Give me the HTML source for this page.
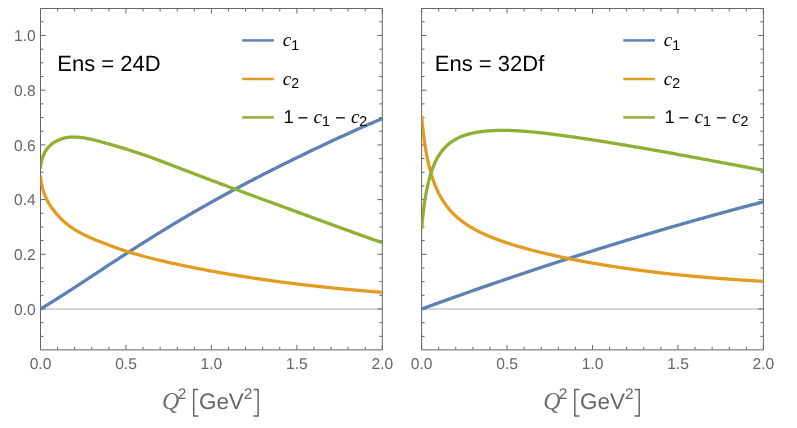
<!DOCTYPE html><html><head><title>c1, c2 vs Q^2</title><meta charset="utf-8"><style>html,body{margin:0;padding:0;background:#fff}svg{display:block;will-change:transform}text{font-family:"Liberation Sans",sans-serif;text-rendering:geometricPrecision}.it{font-family:"Liberation Serif",serif;font-style:italic}</style></head><body>
<svg width="797" height="428" viewBox="0 0 797 428">
<rect width="797" height="428" fill="#fff"/>
<clipPath id="cp0"><rect x="40.5" y="8.5" width="342.30" height="341.4"/></clipPath>
<line x1="40.5" y1="309.0" x2="382.3" y2="309.0" stroke="#d6d6d6" stroke-width="1.8"/>
<path d="M40.5 8.5H382.3V349.9H40.5ZM40.50 349.9v-5M40.50 8.5v5M57.59 349.9v-3M57.59 8.5v3M74.68 349.9v-3M74.68 8.5v3M91.77 349.9v-3M91.77 8.5v3M108.86 349.9v-3M108.86 8.5v3M125.95 349.9v-5M125.95 8.5v5M143.04 349.9v-3M143.04 8.5v3M160.13 349.9v-3M160.13 8.5v3M177.22 349.9v-3M177.22 8.5v3M194.31 349.9v-3M194.31 8.5v3M211.40 349.9v-5M211.40 8.5v5M228.49 349.9v-3M228.49 8.5v3M245.58 349.9v-3M245.58 8.5v3M262.67 349.9v-3M262.67 8.5v3M279.76 349.9v-3M279.76 8.5v3M296.85 349.9v-5M296.85 8.5v5M313.94 349.9v-3M313.94 8.5v3M331.03 349.9v-3M331.03 8.5v3M348.12 349.9v-3M348.12 8.5v3M365.21 349.9v-3M365.21 8.5v3M382.30 349.9v-5M382.30 8.5v5M40.5 336.35h3M382.3 336.35h-3M40.5 322.68h3M382.3 322.68h-3M40.5 309.00h5M382.3 309.00h-5M40.5 295.32h3M382.3 295.32h-3M40.5 281.65h3M382.3 281.65h-3M40.5 267.98h3M382.3 267.98h-3M40.5 254.30h5M382.3 254.30h-5M40.5 240.62h3M382.3 240.62h-3M40.5 226.95h3M382.3 226.95h-3M40.5 213.27h3M382.3 213.27h-3M40.5 199.60h5M382.3 199.60h-5M40.5 185.93h3M382.3 185.93h-3M40.5 172.25h3M382.3 172.25h-3M40.5 158.57h3M382.3 158.57h-3M40.5 144.90h5M382.3 144.90h-5M40.5 131.22h3M382.3 131.22h-3M40.5 117.55h3M382.3 117.55h-3M40.5 103.88h3M382.3 103.88h-3M40.5 90.20h5M382.3 90.20h-5M40.5 76.52h3M382.3 76.52h-3M40.5 62.85h3M382.3 62.85h-3M40.5 49.17h3M382.3 49.17h-3M40.5 35.50h5M382.3 35.50h-5M40.5 21.82h3M382.3 21.82h-3" fill="none" stroke="#666666" stroke-width="1"/>
<g clip-path="url(#cp0)" fill="none" stroke-width="3.3" stroke-linejoin="round">
<path d="M40.50 309.00 L40.50 309.00 L40.51 308.99 L40.52 308.99 L40.53 308.98 L40.55 308.97 L40.58 308.95 L40.61 308.94 L40.64 308.92 L40.67 308.90 L40.71 308.87 L40.76 308.84 L40.81 308.81 L40.86 308.78 L40.92 308.75 L40.98 308.71 L41.05 308.67 L41.12 308.63 L41.20 308.58 L41.28 308.53 L41.36 308.48 L41.45 308.43 L41.54 308.37 L41.64 308.32 L41.74 308.26 L41.84 308.19 L41.95 308.13 L42.07 308.06 L42.18 307.99 L42.31 307.91 L42.43 307.83 L42.56 307.76 L42.70 307.67 L42.84 307.59 L42.98 307.50 L43.13 307.41 L43.28 307.32 L43.44 307.22 L43.60 307.13 L43.77 307.03 L43.94 306.92 L44.11 306.82 L44.29 306.71 L44.47 306.60 L44.66 306.48 L44.85 306.37 L45.04 306.25 L45.24 306.13 L45.45 306.00 L45.65 305.87 L45.87 305.74 L46.08 305.61 L46.31 305.47 L46.53 305.34 L46.76 305.20 L46.99 305.05 L47.23 304.90 L47.48 304.76 L47.72 304.60 L47.97 304.45 L48.23 304.29 L48.49 304.13 L48.75 303.97 L49.02 303.80 L49.29 303.63 L49.57 303.46 L49.85 303.29 L50.14 303.11 L50.43 302.93 L50.72 302.75 L51.02 302.56 L51.32 302.37 L51.63 302.18 L51.94 301.99 L52.26 301.79 L52.58 301.59 L52.90 301.39 L53.23 301.18 L53.56 300.97 L53.90 300.76 L54.24 300.55 L54.59 300.33 L54.94 300.11 L55.29 299.89 L55.65 299.66 L56.01 299.43 L56.38 299.20 L56.75 298.97 L57.13 298.73 L57.51 298.49 L57.89 298.25 L58.28 298.00 L58.67 297.75 L59.07 297.50 L59.47 297.24 L59.88 296.98 L60.29 296.72 L60.70 296.46 L61.12 296.19 L61.54 295.92 L61.97 295.65 L62.40 295.37 L62.84 295.10 L63.28 294.81 L63.72 294.53 L64.17 294.24 L64.62 293.95 L65.08 293.66 L65.54 293.36 L66.01 293.06 L66.48 292.76 L66.95 292.45 L67.43 292.14 L67.91 291.83 L68.40 291.52 L68.89 291.20 L69.39 290.88 L69.89 290.56 L70.39 290.23 L70.90 289.90 L71.42 289.57 L71.93 289.23 L72.46 288.89 L72.98 288.55 L73.51 288.21 L74.05 287.86 L74.59 287.51 L75.13 287.15 L75.68 286.80 L76.23 286.44 L76.78 286.07 L77.34 285.71 L77.91 285.34 L78.48 284.97 L79.05 284.59 L79.63 284.22 L80.21 283.83 L80.80 283.45 L81.39 283.06 L81.98 282.67 L82.58 282.28 L83.18 281.89 L83.79 281.49 L84.40 281.09 L85.02 280.68 L85.64 280.28 L86.26 279.87 L86.89 279.45 L87.53 279.04 L88.16 278.62 L88.81 278.20 L89.45 277.77 L90.10 277.34 L90.76 276.91 L91.42 276.48 L92.08 276.04 L92.75 275.60 L93.42 275.16 L94.10 274.72 L94.78 274.27 L95.46 273.82 L96.15 273.36 L96.85 272.91 L97.54 272.45 L98.24 271.99 L98.95 271.52 L99.66 271.05 L100.38 270.58 L101.10 270.11 L101.82 269.64 L102.55 269.16 L103.28 268.68 L104.02 268.19 L104.76 267.71 L105.50 267.22 L106.25 266.73 L107.00 266.23 L107.76 265.73 L108.52 265.23 L109.29 264.73 L110.06 264.23 L110.84 263.72 L111.62 263.21 L112.40 262.70 L113.19 262.18 L113.98 261.66 L114.78 261.14 L115.58 260.62 L116.38 260.09 L117.19 259.57 L118.01 259.04 L118.82 258.50 L119.65 257.97 L120.47 257.43 L121.30 256.89 L122.14 256.35 L122.98 255.80 L123.82 255.26 L124.67 254.71 L125.52 254.16 L126.38 253.60 L127.24 253.05 L128.11 252.49 L128.97 251.93 L129.85 251.37 L130.73 250.80 L131.61 250.23 L132.50 249.66 L133.39 249.09 L134.28 248.52 L135.18 247.94 L136.09 247.37 L136.99 246.79 L137.91 246.20 L138.82 245.62 L139.74 245.04 L140.67 244.45 L141.60 243.86 L142.53 243.27 L143.47 242.67 L144.41 242.08 L145.36 241.48 L146.31 240.88 L147.27 240.28 L148.23 239.68 L149.19 239.07 L150.16 238.47 L151.13 237.86 L152.11 237.25 L153.09 236.64 L154.07 236.02 L155.06 235.41 L156.06 234.79 L157.06 234.17 L158.06 233.55 L159.07 232.93 L160.08 232.31 L161.09 231.68 L162.11 231.06 L163.14 230.43 L164.17 229.80 L165.20 229.17 L166.24 228.54 L167.28 227.90 L168.32 227.27 L169.37 226.63 L170.43 225.99 L171.48 225.35 L172.55 224.71 L173.61 224.07 L174.69 223.43 L175.76 222.78 L176.84 222.14 L177.93 221.49 L179.01 220.84 L180.11 220.19 L181.20 219.54 L182.31 218.89 L183.41 218.23 L184.52 217.58 L185.64 216.92 L186.75 216.27 L187.88 215.61 L189.00 214.95 L190.14 214.29 L191.27 213.63 L192.41 212.97 L193.56 212.30 L194.70 211.64 L195.86 210.98 L197.01 210.31 L198.18 209.64 L199.34 208.97 L200.51 208.31 L201.69 207.64 L202.86 206.96 L204.05 206.29 L205.23 205.62 L206.43 204.95 L207.62 204.27 L208.82 203.60 L210.03 202.92 L211.24 202.24 L212.45 201.56 L213.67 200.89 L214.89 200.21 L216.11 199.53 L217.34 198.84 L218.58 198.16 L219.82 197.48 L221.06 196.80 L222.31 196.11 L223.56 195.43 L224.82 194.74 L226.08 194.05 L227.34 193.37 L228.61 192.68 L229.88 191.99 L231.16 191.30 L232.44 190.61 L233.73 189.92 L235.02 189.23 L236.31 188.53 L237.61 187.84 L238.91 187.15 L240.22 186.45 L241.53 185.76 L242.85 185.06 L244.17 184.36 L245.49 183.67 L246.82 182.97 L248.16 182.27 L249.49 181.57 L250.84 180.87 L252.18 180.17 L253.53 179.47 L254.89 178.76 L256.25 178.06 L257.61 177.36 L258.98 176.65 L260.35 175.95 L261.73 175.24 L263.11 174.53 L264.49 173.83 L265.88 173.12 L267.27 172.41 L268.67 171.70 L270.07 170.99 L271.48 170.28 L272.89 169.57 L274.31 168.86 L275.72 168.14 L277.15 167.43 L278.58 166.71 L280.01 166.00 L281.44 165.28 L282.88 164.57 L284.33 163.85 L285.78 163.13 L287.23 162.41 L288.69 161.69 L290.15 160.97 L291.62 160.25 L293.09 159.53 L294.56 158.81 L296.04 158.09 L297.53 157.36 L299.01 156.64 L300.51 155.92 L302.00 155.19 L303.50 154.46 L305.01 153.74 L306.52 153.01 L308.03 152.28 L309.55 151.55 L311.07 150.82 L312.60 150.09 L314.13 149.36 L315.66 148.63 L317.20 147.90 L318.75 147.17 L320.30 146.43 L321.85 145.70 L323.40 144.97 L324.97 144.23 L326.53 143.50 L328.10 142.76 L329.67 142.03 L331.25 141.29 L332.83 140.56 L334.42 139.82 L336.01 139.08 L337.61 138.34 L339.21 137.61 L340.81 136.87 L342.42 136.13 L344.03 135.39 L345.65 134.66 L347.27 133.92 L348.89 133.18 L350.52 132.44 L352.16 131.71 L353.79 130.97 L355.44 130.23 L357.08 129.50 L358.73 128.76 L360.39 128.02 L362.05 127.29 L363.71 126.56 L365.38 125.82 L367.05 125.09 L368.73 124.36 L370.41 123.63 L372.10 122.90 L373.79 122.17 L375.48 121.44 L377.18 120.72 L378.88 119.99 L380.59 119.27 L382.30 118.55" stroke="#5e81b5"/>
<path d="M40.50 175.78 L40.50 176.07 L40.51 176.38 L40.52 176.70 L40.53 177.02 L40.55 177.36 L40.58 177.70 L40.61 178.06 L40.64 178.42 L40.67 178.79 L40.71 179.16 L40.76 179.55 L40.81 179.94 L40.86 180.34 L40.92 180.74 L40.98 181.15 L41.05 181.57 L41.12 181.99 L41.20 182.42 L41.28 182.85 L41.36 183.29 L41.45 183.73 L41.54 184.18 L41.64 184.63 L41.74 185.08 L41.84 185.53 L41.95 185.99 L42.07 186.45 L42.18 186.92 L42.31 187.38 L42.43 187.85 L42.56 188.32 L42.70 188.80 L42.84 189.27 L42.98 189.74 L43.13 190.22 L43.28 190.70 L43.44 191.18 L43.60 191.65 L43.77 192.13 L43.94 192.61 L44.11 193.09 L44.29 193.57 L44.47 194.05 L44.66 194.53 L44.85 195.01 L45.04 195.49 L45.24 195.97 L45.45 196.45 L45.65 196.93 L45.87 197.41 L46.08 197.89 L46.31 198.37 L46.53 198.85 L46.76 199.32 L46.99 199.80 L47.23 200.28 L47.48 200.75 L47.72 201.22 L47.97 201.69 L48.23 202.16 L48.49 202.63 L48.75 203.09 L49.02 203.55 L49.29 204.01 L49.57 204.47 L49.85 204.92 L50.14 205.37 L50.43 205.82 L50.72 206.27 L51.02 206.72 L51.32 207.17 L51.63 207.61 L51.94 208.05 L52.26 208.49 L52.58 208.93 L52.90 209.37 L53.23 209.80 L53.56 210.24 L53.90 210.68 L54.24 211.11 L54.59 211.54 L54.94 211.98 L55.29 212.41 L55.65 212.85 L56.01 213.28 L56.38 213.72 L56.75 214.15 L57.13 214.59 L57.51 215.02 L57.89 215.45 L58.28 215.88 L58.67 216.31 L59.07 216.74 L59.47 217.17 L59.88 217.59 L60.29 218.02 L60.70 218.44 L61.12 218.86 L61.54 219.28 L61.97 219.70 L62.40 220.11 L62.84 220.52 L63.28 220.93 L63.72 221.34 L64.17 221.75 L64.62 222.15 L65.08 222.55 L65.54 222.95 L66.01 223.34 L66.48 223.73 L66.95 224.12 L67.43 224.50 L67.91 224.88 L68.40 225.26 L68.89 225.63 L69.39 225.99 L69.89 226.35 L70.39 226.71 L70.90 227.06 L71.42 227.41 L71.93 227.76 L72.46 228.11 L72.98 228.45 L73.51 228.80 L74.05 229.14 L74.59 229.48 L75.13 229.81 L75.68 230.15 L76.23 230.48 L76.78 230.81 L77.34 231.14 L77.91 231.46 L78.48 231.79 L79.05 232.11 L79.63 232.43 L80.21 232.75 L80.80 233.06 L81.39 233.38 L81.98 233.69 L82.58 234.00 L83.18 234.31 L83.79 234.62 L84.40 234.93 L85.02 235.23 L85.64 235.54 L86.26 235.84 L86.89 236.14 L87.53 236.44 L88.16 236.74 L88.81 237.03 L89.45 237.33 L90.10 237.62 L90.76 237.91 L91.42 238.20 L92.08 238.49 L92.75 238.77 L93.42 239.06 L94.10 239.35 L94.78 239.63 L95.46 239.91 L96.15 240.19 L96.85 240.47 L97.54 240.75 L98.24 241.03 L98.95 241.30 L99.66 241.58 L100.38 241.85 L101.10 242.12 L101.82 242.40 L102.55 242.67 L103.28 242.94 L104.02 243.22 L104.76 243.50 L105.50 243.78 L106.25 244.06 L107.00 244.34 L107.76 244.63 L108.52 244.92 L109.29 245.21 L110.06 245.50 L110.84 245.79 L111.62 246.08 L112.40 246.37 L113.19 246.67 L113.98 246.96 L114.78 247.25 L115.58 247.55 L116.38 247.84 L117.19 248.13 L118.01 248.42 L118.82 248.72 L119.65 249.00 L120.47 249.29 L121.30 249.58 L122.14 249.86 L122.98 250.14 L123.82 250.42 L124.67 250.69 L125.52 250.97 L126.38 251.23 L127.24 251.50 L128.11 251.77 L128.97 252.03 L129.85 252.30 L130.73 252.57 L131.61 252.83 L132.50 253.10 L133.39 253.36 L134.28 253.63 L135.18 253.89 L136.09 254.15 L136.99 254.41 L137.91 254.68 L138.82 254.94 L139.74 255.20 L140.67 255.46 L141.60 255.72 L142.53 255.98 L143.47 256.24 L144.41 256.49 L145.36 256.75 L146.31 257.00 L147.27 257.26 L148.23 257.51 L149.19 257.76 L150.16 258.02 L151.13 258.27 L152.11 258.51 L153.09 258.76 L154.07 259.01 L155.06 259.25 L156.06 259.50 L157.06 259.74 L158.06 259.98 L159.07 260.22 L160.08 260.45 L161.09 260.69 L162.11 260.92 L163.14 261.16 L164.17 261.39 L165.20 261.63 L166.24 261.86 L167.28 262.10 L168.32 262.33 L169.37 262.57 L170.43 262.80 L171.48 263.03 L172.55 263.27 L173.61 263.50 L174.69 263.73 L175.76 263.96 L176.84 264.20 L177.93 264.43 L179.01 264.66 L180.11 264.89 L181.20 265.12 L182.31 265.35 L183.41 265.58 L184.52 265.81 L185.64 266.04 L186.75 266.27 L187.88 266.50 L189.00 266.73 L190.14 266.96 L191.27 267.19 L192.41 267.42 L193.56 267.65 L194.70 267.87 L195.86 268.10 L197.01 268.33 L198.18 268.56 L199.34 268.78 L200.51 269.01 L201.69 269.23 L202.86 269.46 L204.05 269.68 L205.23 269.91 L206.43 270.13 L207.62 270.36 L208.82 270.58 L210.03 270.80 L211.24 271.03 L212.45 271.25 L213.67 271.47 L214.89 271.69 L216.11 271.91 L217.34 272.13 L218.58 272.35 L219.82 272.57 L221.06 272.79 L222.31 273.01 L223.56 273.23 L224.82 273.45 L226.08 273.66 L227.34 273.88 L228.61 274.10 L229.88 274.31 L231.16 274.53 L232.44 274.74 L233.73 274.95 L235.02 275.17 L236.31 275.38 L237.61 275.59 L238.91 275.80 L240.22 276.02 L241.53 276.23 L242.85 276.44 L244.17 276.64 L245.49 276.85 L246.82 277.06 L248.16 277.27 L249.49 277.48 L250.84 277.68 L252.18 277.89 L253.53 278.09 L254.89 278.30 L256.25 278.50 L257.61 278.70 L258.98 278.90 L260.35 279.10 L261.73 279.30 L263.11 279.50 L264.49 279.70 L265.88 279.90 L267.27 280.10 L268.67 280.30 L270.07 280.49 L271.48 280.69 L272.89 280.88 L274.31 281.07 L275.72 281.27 L277.15 281.46 L278.58 281.65 L280.01 281.84 L281.44 282.03 L282.88 282.22 L284.33 282.41 L285.78 282.59 L287.23 282.78 L288.69 282.97 L290.15 283.15 L291.62 283.33 L293.09 283.52 L294.56 283.70 L296.04 283.88 L297.53 284.06 L299.01 284.24 L300.51 284.42 L302.00 284.60 L303.50 284.77 L305.01 284.95 L306.52 285.12 L308.03 285.30 L309.55 285.47 L311.07 285.64 L312.60 285.81 L314.13 285.98 L315.66 286.15 L317.20 286.32 L318.75 286.49 L320.30 286.66 L321.85 286.82 L323.40 286.99 L324.97 287.15 L326.53 287.31 L328.10 287.48 L329.67 287.64 L331.25 287.80 L332.83 287.96 L334.42 288.12 L336.01 288.27 L337.61 288.43 L339.21 288.58 L340.81 288.74 L342.42 288.89 L344.03 289.05 L345.65 289.20 L347.27 289.35 L348.89 289.50 L350.52 289.65 L352.16 289.80 L353.79 289.94 L355.44 290.09 L357.08 290.23 L358.73 290.38 L360.39 290.52 L362.05 290.66 L363.71 290.81 L365.38 290.95 L367.05 291.09 L368.73 291.22 L370.41 291.36 L372.10 291.50 L373.79 291.63 L375.48 291.77 L377.18 291.90 L378.88 292.04 L380.59 292.17 L382.30 292.30" stroke="#e19c24"/>
<path d="M40.50 168.72 L40.50 168.43 L40.51 168.13 L40.52 167.82 L40.53 167.50 L40.55 167.18 L40.58 166.85 L40.61 166.51 L40.64 166.17 L40.67 165.82 L40.71 165.47 L40.76 165.12 L40.81 164.76 L40.86 164.39 L40.92 164.03 L40.98 163.65 L41.05 163.28 L41.12 162.90 L41.20 162.53 L41.28 162.14 L41.36 161.76 L41.45 161.38 L41.54 160.99 L41.64 160.60 L41.74 160.22 L41.84 159.83 L41.95 159.44 L42.07 159.05 L42.18 158.67 L42.31 158.28 L42.43 157.89 L42.56 157.51 L42.70 157.12 L42.84 156.74 L42.98 156.36 L43.13 155.98 L43.28 155.60 L43.44 155.22 L43.60 154.85 L43.77 154.48 L43.94 154.11 L44.11 153.74 L44.29 153.38 L44.47 153.02 L44.66 152.66 L44.85 152.30 L45.04 151.95 L45.24 151.60 L45.45 151.25 L45.65 150.91 L45.87 150.57 L46.08 150.24 L46.31 149.90 L46.53 149.57 L46.76 149.25 L46.99 148.92 L47.23 148.60 L47.48 148.29 L47.72 147.98 L47.97 147.67 L48.23 147.37 L48.49 147.08 L48.75 146.79 L49.02 146.51 L49.29 146.23 L49.57 145.95 L49.85 145.68 L50.14 145.41 L50.43 145.15 L50.72 144.90 L51.02 144.65 L51.32 144.40 L51.63 144.16 L51.94 143.92 L52.26 143.68 L52.58 143.45 L52.90 143.23 L53.23 143.00 L53.56 142.79 L53.90 142.57 L54.24 142.36 L54.59 142.14 L54.94 141.94 L55.29 141.73 L55.65 141.53 L56.01 141.32 L56.38 141.12 L56.75 140.92 L57.13 140.73 L57.51 140.54 L57.89 140.35 L58.28 140.16 L58.67 139.98 L59.07 139.81 L59.47 139.64 L59.88 139.47 L60.29 139.31 L60.70 139.15 L61.12 138.99 L61.54 138.85 L61.97 138.70 L62.40 138.56 L62.84 138.43 L63.28 138.30 L63.72 138.18 L64.17 138.06 L64.62 137.95 L65.08 137.84 L65.54 137.74 L66.01 137.64 L66.48 137.56 L66.95 137.48 L67.43 137.40 L67.91 137.33 L68.40 137.27 L68.89 137.22 L69.39 137.17 L69.89 137.14 L70.39 137.11 L70.90 137.08 L71.42 137.07 L71.93 137.05 L72.46 137.05 L72.98 137.04 L73.51 137.05 L74.05 137.05 L74.59 137.07 L75.13 137.08 L75.68 137.11 L76.23 137.13 L76.78 137.17 L77.34 137.20 L77.91 137.25 L78.48 137.29 L79.05 137.35 L79.63 137.40 L80.21 137.46 L80.80 137.53 L81.39 137.60 L81.98 137.68 L82.58 137.76 L83.18 137.85 L83.79 137.94 L84.40 138.03 L85.02 138.13 L85.64 138.23 L86.26 138.34 L86.89 138.46 L87.53 138.57 L88.16 138.69 L88.81 138.82 L89.45 138.95 L90.10 139.09 L90.76 139.23 L91.42 139.37 L92.08 139.52 L92.75 139.67 L93.42 139.83 L94.10 139.99 L94.78 140.15 L95.46 140.32 L96.15 140.49 L96.85 140.67 L97.54 140.85 L98.24 141.03 L98.95 141.22 L99.66 141.41 L100.38 141.61 L101.10 141.81 L101.82 142.01 L102.55 142.22 L103.28 142.43 L104.02 142.64 L104.76 142.84 L105.50 143.05 L106.25 143.26 L107.00 143.47 L107.76 143.68 L108.52 143.90 L109.29 144.11 L110.06 144.32 L110.84 144.54 L111.62 144.76 L112.40 144.98 L113.19 145.20 L113.98 145.42 L114.78 145.65 L115.58 145.88 L116.38 146.11 L117.19 146.35 L118.01 146.59 L118.82 146.83 L119.65 147.07 L120.47 147.32 L121.30 147.57 L122.14 147.82 L122.98 148.08 L123.82 148.34 L124.67 148.60 L125.52 148.87 L126.38 149.15 L127.24 149.43 L128.11 149.71 L128.97 149.99 L129.85 150.27 L130.73 150.55 L131.61 150.84 L132.50 151.13 L133.39 151.42 L134.28 151.71 L135.18 152.01 L136.09 152.31 L136.99 152.61 L137.91 152.91 L138.82 153.21 L139.74 153.52 L140.67 153.83 L141.60 154.14 L142.53 154.46 L143.47 154.78 L144.41 155.10 L145.36 155.42 L146.31 155.75 L147.27 156.08 L148.23 156.42 L149.19 156.75 L150.16 157.09 L151.13 157.44 L152.11 157.79 L153.09 158.14 L154.07 158.50 L155.06 158.86 L156.06 159.23 L157.06 159.60 L158.06 159.97 L159.07 160.35 L160.08 160.74 L161.09 161.13 L162.11 161.52 L163.14 161.91 L164.17 162.31 L165.20 162.70 L166.24 163.10 L167.28 163.50 L168.32 163.90 L169.37 164.30 L170.43 164.71 L171.48 165.11 L172.55 165.52 L173.61 165.93 L174.69 166.34 L175.76 166.75 L176.84 167.17 L177.93 167.58 L179.01 168.00 L180.11 168.42 L181.20 168.84 L182.31 169.26 L183.41 169.68 L184.52 170.11 L185.64 170.53 L186.75 170.96 L187.88 171.39 L189.00 171.82 L190.14 172.25 L191.27 172.68 L192.41 173.11 L193.56 173.55 L194.70 173.98 L195.86 174.42 L197.01 174.86 L198.18 175.30 L199.34 175.74 L200.51 176.19 L201.69 176.63 L202.86 177.08 L204.05 177.52 L205.23 177.97 L206.43 178.42 L207.62 178.87 L208.82 179.32 L210.03 179.78 L211.24 180.23 L212.45 180.69 L213.67 181.14 L214.89 181.60 L216.11 182.06 L217.34 182.52 L218.58 182.99 L219.82 183.45 L221.06 183.91 L222.31 184.38 L223.56 184.85 L224.82 185.31 L226.08 185.78 L227.34 186.25 L228.61 186.73 L229.88 187.20 L231.16 187.68 L232.44 188.15 L233.73 188.63 L235.02 189.11 L236.31 189.59 L237.61 190.07 L238.91 190.55 L240.22 191.03 L241.53 191.52 L242.85 192.00 L244.17 192.49 L245.49 192.98 L246.82 193.47 L248.16 193.96 L249.49 194.46 L250.84 194.95 L252.18 195.45 L253.53 195.94 L254.89 196.44 L256.25 196.94 L257.61 197.44 L258.98 197.95 L260.35 198.45 L261.73 198.96 L263.11 199.46 L264.49 199.97 L265.88 200.48 L267.27 200.99 L268.67 201.50 L270.07 202.02 L271.48 202.53 L272.89 203.05 L274.31 203.57 L275.72 204.09 L277.15 204.61 L278.58 205.13 L280.01 205.66 L281.44 206.19 L282.88 206.71 L284.33 207.24 L285.78 207.77 L287.23 208.31 L288.69 208.84 L290.15 209.38 L291.62 209.91 L293.09 210.45 L294.56 210.99 L296.04 211.53 L297.53 212.08 L299.01 212.62 L300.51 213.17 L302.00 213.71 L303.50 214.26 L305.01 214.82 L306.52 215.37 L308.03 215.92 L309.55 216.48 L311.07 217.03 L312.60 217.59 L314.13 218.15 L315.66 218.72 L317.20 219.28 L318.75 219.84 L320.30 220.41 L321.85 220.98 L323.40 221.55 L324.97 222.12 L326.53 222.69 L328.10 223.26 L329.67 223.84 L331.25 224.41 L332.83 224.99 L334.42 225.57 L336.01 226.15 L337.61 226.73 L339.21 227.31 L340.81 227.89 L342.42 228.48 L344.03 229.06 L345.65 229.65 L347.27 230.23 L348.89 230.82 L350.52 231.41 L352.16 232.00 L353.79 232.59 L355.44 233.18 L357.08 233.77 L358.73 234.36 L360.39 234.95 L362.05 235.55 L363.71 236.14 L365.38 236.73 L367.05 237.32 L368.73 237.92 L370.41 238.51 L372.10 239.10 L373.79 239.70 L375.48 240.29 L377.18 240.88 L378.88 241.47 L380.59 242.06 L382.30 242.65" stroke="#8fb032"/>
</g>
<line x1="242.2" y1="40.4" x2="273.8" y2="40.4" stroke="#5e81b5" stroke-width="2.5"/>
<line x1="242.2" y1="79.0" x2="273.8" y2="79.0" stroke="#e19c24" stroke-width="2.5"/>
<line x1="242.2" y1="117.4" x2="273.8" y2="117.4" stroke="#8fb032" stroke-width="2.5"/>
<text x="282.7" y="46.1" font-size="19" fill="#000"><tspan class="it">c</tspan><tspan font-size="14.2" dy="3.6">1</tspan></text>
<text x="282.7" y="84.7" font-size="19" fill="#000"><tspan class="it">c</tspan><tspan font-size="14.2" dy="3.6">2</tspan></text>
<text x="283.5" y="122.6" font-size="18.5" fill="#000">1<tspan dx="-1.4" dy="1.2"> − </tspan><tspan class="it" font-size="19" dy="-1.2">c</tspan><tspan font-size="14.2" dy="3.6">1</tspan><tspan dy="-2.4"> − </tspan><tspan class="it" font-size="19" dy="-1.2">c</tspan><tspan font-size="14.2" dy="3.6">2</tspan></text>
<text x="40.5" y="369" font-size="15.6" text-anchor="middle" fill="#666666">0.0</text>
<text x="126.0" y="369" font-size="15.6" text-anchor="middle" fill="#666666">0.5</text>
<text x="211.4" y="369" font-size="15.6" text-anchor="middle" fill="#666666">1.0</text>
<text x="296.9" y="369" font-size="15.6" text-anchor="middle" fill="#666666">1.5</text>
<text x="382.3" y="369" font-size="15.6" text-anchor="middle" fill="#666666">2.0</text>
<text x="35.8" y="314.7" font-size="15.6" text-anchor="end" fill="#666666">0.0</text>
<text x="35.8" y="260.0" font-size="15.6" text-anchor="end" fill="#666666">0.2</text>
<text x="35.8" y="205.3" font-size="15.6" text-anchor="end" fill="#666666">0.4</text>
<text x="35.8" y="150.6" font-size="15.6" text-anchor="end" fill="#666666">0.6</text>
<text x="35.8" y="95.9" font-size="15.6" text-anchor="end" fill="#666666">0.8</text>
<text x="35.8" y="41.2" font-size="15.6" text-anchor="end" fill="#666666">1.0</text>
<text x="57.3" y="70.6" font-size="22" fill="#000">Ens = 24D</text>
<text x="162.1" y="409.4" font-size="22" fill="#666666"><tspan class="it" font-size="24" fill="#707070">Q</tspan><tspan font-size="15.4" dy="-10.8" dx="-1.8">2</tspan></text>
<text x="199.0" y="409.4" font-size="22.4" fill="#666666">GeV<tspan font-size="15.4" dy="-10.8">2</tspan></text>
<path d="M198.3 389.6h-4.6v26.5h4.6M253.5 389.6h4.6v26.5h-4.6" fill="none" stroke="#666666" stroke-width="1.5"/>
<clipPath id="cp1"><rect x="421.6" y="8.5" width="342.30" height="341.4"/></clipPath>
<line x1="421.6" y1="309.0" x2="763.4000000000001" y2="309.0" stroke="#d6d6d6" stroke-width="1.8"/>
<path d="M421.6 8.5H763.4000000000001V349.9H421.6ZM421.60 349.9v-5M421.60 8.5v5M438.69 349.9v-3M438.69 8.5v3M455.78 349.9v-3M455.78 8.5v3M472.87 349.9v-3M472.87 8.5v3M489.96 349.9v-3M489.96 8.5v3M507.05 349.9v-5M507.05 8.5v5M524.14 349.9v-3M524.14 8.5v3M541.23 349.9v-3M541.23 8.5v3M558.32 349.9v-3M558.32 8.5v3M575.41 349.9v-3M575.41 8.5v3M592.50 349.9v-5M592.50 8.5v5M609.59 349.9v-3M609.59 8.5v3M626.68 349.9v-3M626.68 8.5v3M643.77 349.9v-3M643.77 8.5v3M660.86 349.9v-3M660.86 8.5v3M677.95 349.9v-5M677.95 8.5v5M695.04 349.9v-3M695.04 8.5v3M712.13 349.9v-3M712.13 8.5v3M729.22 349.9v-3M729.22 8.5v3M746.31 349.9v-3M746.31 8.5v3M763.40 349.9v-5M763.40 8.5v5M421.6 336.35h3M763.4000000000001 336.35h-3M421.6 322.68h3M763.4000000000001 322.68h-3M421.6 309.00h5M763.4000000000001 309.00h-5M421.6 295.32h3M763.4000000000001 295.32h-3M421.6 281.65h3M763.4000000000001 281.65h-3M421.6 267.98h3M763.4000000000001 267.98h-3M421.6 254.30h5M763.4000000000001 254.30h-5M421.6 240.62h3M763.4000000000001 240.62h-3M421.6 226.95h3M763.4000000000001 226.95h-3M421.6 213.27h3M763.4000000000001 213.27h-3M421.6 199.60h5M763.4000000000001 199.60h-5M421.6 185.93h3M763.4000000000001 185.93h-3M421.6 172.25h3M763.4000000000001 172.25h-3M421.6 158.57h3M763.4000000000001 158.57h-3M421.6 144.90h5M763.4000000000001 144.90h-5M421.6 131.22h3M763.4000000000001 131.22h-3M421.6 117.55h3M763.4000000000001 117.55h-3M421.6 103.88h3M763.4000000000001 103.88h-3M421.6 90.20h5M763.4000000000001 90.20h-5M421.6 76.52h3M763.4000000000001 76.52h-3M421.6 62.85h3M763.4000000000001 62.85h-3M421.6 49.17h3M763.4000000000001 49.17h-3M421.6 35.50h5M763.4000000000001 35.50h-5M421.6 21.82h3M763.4000000000001 21.82h-3" fill="none" stroke="#666666" stroke-width="1"/>
<g clip-path="url(#cp1)" fill="none" stroke-width="3.3" stroke-linejoin="round">
<path d="M421.60 309.00 L421.60 309.00 L421.61 309.00 L421.62 308.99 L421.63 308.99 L421.65 308.98 L421.68 308.97 L421.71 308.96 L421.74 308.95 L421.77 308.94 L421.81 308.92 L421.86 308.91 L421.91 308.89 L421.96 308.87 L422.02 308.85 L422.08 308.82 L422.15 308.80 L422.22 308.77 L422.30 308.75 L422.38 308.72 L422.46 308.69 L422.55 308.66 L422.64 308.62 L422.74 308.59 L422.84 308.55 L422.94 308.51 L423.05 308.47 L423.17 308.43 L423.28 308.39 L423.41 308.34 L423.53 308.30 L423.66 308.25 L423.80 308.20 L423.94 308.15 L424.08 308.10 L424.23 308.04 L424.38 307.99 L424.54 307.93 L424.70 307.87 L424.87 307.81 L425.04 307.75 L425.21 307.69 L425.39 307.62 L425.57 307.56 L425.76 307.49 L425.95 307.42 L426.14 307.35 L426.34 307.27 L426.55 307.20 L426.75 307.12 L426.97 307.05 L427.18 306.97 L427.41 306.89 L427.63 306.81 L427.86 306.72 L428.09 306.64 L428.33 306.55 L428.58 306.46 L428.82 306.37 L429.07 306.28 L429.33 306.19 L429.59 306.10 L429.85 306.00 L430.12 305.90 L430.39 305.81 L430.67 305.71 L430.95 305.60 L431.24 305.50 L431.53 305.40 L431.82 305.29 L432.12 305.18 L432.42 305.07 L432.73 304.96 L433.04 304.85 L433.36 304.73 L433.68 304.62 L434.00 304.50 L434.33 304.38 L434.66 304.26 L435.00 304.14 L435.34 304.02 L435.69 303.89 L436.04 303.77 L436.39 303.64 L436.75 303.51 L437.11 303.38 L437.48 303.25 L437.85 303.11 L438.23 302.98 L438.61 302.84 L438.99 302.70 L439.38 302.56 L439.77 302.42 L440.17 302.28 L440.57 302.14 L440.98 301.99 L441.39 301.84 L441.80 301.69 L442.22 301.54 L442.64 301.39 L443.07 301.24 L443.50 301.08 L443.94 300.93 L444.38 300.77 L444.82 300.61 L445.27 300.45 L445.72 300.29 L446.18 300.12 L446.64 299.96 L447.11 299.79 L447.58 299.62 L448.05 299.46 L448.53 299.28 L449.01 299.11 L449.50 298.94 L449.99 298.76 L450.49 298.59 L450.99 298.41 L451.49 298.23 L452.00 298.05 L452.52 297.86 L453.03 297.68 L453.56 297.49 L454.08 297.31 L454.61 297.12 L455.15 296.93 L455.69 296.74 L456.23 296.55 L456.78 296.35 L457.33 296.16 L457.88 295.96 L458.44 295.76 L459.01 295.56 L459.58 295.36 L460.15 295.16 L460.73 294.95 L461.31 294.75 L461.90 294.54 L462.49 294.33 L463.08 294.12 L463.68 293.91 L464.28 293.70 L464.89 293.48 L465.50 293.27 L466.12 293.05 L466.74 292.83 L467.36 292.61 L467.99 292.39 L468.63 292.17 L469.26 291.94 L469.91 291.72 L470.55 291.49 L471.20 291.26 L471.86 291.03 L472.52 290.80 L473.18 290.57 L473.85 290.34 L474.52 290.10 L475.20 289.87 L475.88 289.63 L476.56 289.39 L477.25 289.15 L477.95 288.91 L478.64 288.66 L479.34 288.42 L480.05 288.17 L480.76 287.93 L481.48 287.68 L482.20 287.43 L482.92 287.18 L483.65 286.92 L484.38 286.67 L485.12 286.41 L485.86 286.16 L486.60 285.90 L487.35 285.64 L488.10 285.38 L488.86 285.12 L489.62 284.86 L490.39 284.59 L491.16 284.32 L491.94 284.06 L492.72 283.79 L493.50 283.52 L494.29 283.25 L495.08 282.98 L495.88 282.70 L496.68 282.43 L497.48 282.15 L498.29 281.87 L499.11 281.59 L499.92 281.31 L500.75 281.03 L501.57 280.75 L502.40 280.47 L503.24 280.18 L504.08 279.90 L504.92 279.61 L505.77 279.32 L506.62 279.03 L507.48 278.74 L508.34 278.44 L509.21 278.15 L510.07 277.86 L510.95 277.56 L511.83 277.26 L512.71 276.96 L513.60 276.66 L514.49 276.36 L515.38 276.06 L516.28 275.76 L517.19 275.45 L518.09 275.14 L519.01 274.84 L519.92 274.53 L520.84 274.22 L521.77 273.91 L522.70 273.60 L523.63 273.28 L524.57 272.97 L525.51 272.65 L526.46 272.34 L527.41 272.02 L528.37 271.70 L529.33 271.38 L530.29 271.06 L531.26 270.73 L532.23 270.41 L533.21 270.08 L534.19 269.76 L535.17 269.43 L536.16 269.10 L537.16 268.77 L538.16 268.44 L539.16 268.11 L540.17 267.78 L541.18 267.44 L542.19 267.11 L543.21 266.77 L544.24 266.44 L545.27 266.10 L546.30 265.76 L547.34 265.42 L548.38 265.08 L549.42 264.73 L550.47 264.39 L551.53 264.04 L552.58 263.70 L553.65 263.35 L554.71 263.00 L555.79 262.65 L556.86 262.30 L557.94 261.95 L559.03 261.60 L560.11 261.25 L561.21 260.89 L562.30 260.54 L563.41 260.18 L564.51 259.82 L565.62 259.47 L566.74 259.11 L567.85 258.75 L568.98 258.38 L570.10 258.02 L571.24 257.66 L572.37 257.29 L573.51 256.93 L574.66 256.56 L575.80 256.20 L576.96 255.83 L578.11 255.46 L579.28 255.09 L580.44 254.72 L581.61 254.34 L582.79 253.97 L583.96 253.60 L585.15 253.22 L586.33 252.85 L587.53 252.47 L588.72 252.09 L589.92 251.71 L591.13 251.33 L592.34 250.95 L593.55 250.57 L594.77 250.19 L595.99 249.81 L597.21 249.42 L598.44 249.04 L599.68 248.65 L600.92 248.26 L602.16 247.88 L603.41 247.49 L604.66 247.10 L605.92 246.71 L607.18 246.32 L608.44 245.93 L609.71 245.53 L610.98 245.14 L612.26 244.75 L613.54 244.35 L614.83 243.96 L616.12 243.56 L617.41 243.16 L618.71 242.76 L620.01 242.36 L621.32 241.96 L622.63 241.56 L623.95 241.16 L625.27 240.76 L626.59 240.36 L627.92 239.95 L629.26 239.55 L630.59 239.15 L631.94 238.74 L633.28 238.33 L634.63 237.93 L635.99 237.52 L637.35 237.11 L638.71 236.70 L640.08 236.29 L641.45 235.88 L642.83 235.47 L644.21 235.05 L645.59 234.64 L646.98 234.23 L648.37 233.81 L649.77 233.40 L651.17 232.98 L652.58 232.57 L653.99 232.15 L655.41 231.73 L656.82 231.32 L658.25 230.90 L659.68 230.48 L661.11 230.06 L662.54 229.64 L663.98 229.22 L665.43 228.80 L666.88 228.37 L668.33 227.95 L669.79 227.53 L671.25 227.10 L672.72 226.68 L674.19 226.25 L675.66 225.83 L677.14 225.40 L678.63 224.98 L680.11 224.55 L681.61 224.12 L683.10 223.69 L684.60 223.26 L686.11 222.84 L687.62 222.41 L689.13 221.98 L690.65 221.55 L692.17 221.11 L693.70 220.68 L695.23 220.25 L696.76 219.82 L698.30 219.39 L699.85 218.95 L701.40 218.52 L702.95 218.09 L704.50 217.65 L706.07 217.22 L707.63 216.78 L709.20 216.35 L710.77 215.91 L712.35 215.47 L713.93 215.04 L715.52 214.60 L717.11 214.16 L718.71 213.72 L720.31 213.29 L721.91 212.85 L723.52 212.41 L725.13 211.97 L726.75 211.53 L728.37 211.09 L729.99 210.65 L731.62 210.21 L733.26 209.77 L734.89 209.33 L736.54 208.89 L738.18 208.45 L739.83 208.01 L741.49 207.57 L743.15 207.12 L744.81 206.68 L746.48 206.24 L748.15 205.80 L749.83 205.35 L751.51 204.91 L753.20 204.47 L754.89 204.03 L756.58 203.58 L758.28 203.14 L759.98 202.69 L761.69 202.25 L763.40 201.81" stroke="#5e81b5"/>
<path d="M421.60 115.45 L421.60 115.48 L421.61 115.57 L421.62 115.70 L421.63 115.90 L421.65 116.14 L421.68 116.44 L421.71 116.78 L421.74 117.17 L421.77 117.61 L421.81 118.09 L421.86 118.62 L421.91 119.19 L421.96 119.79 L422.02 120.44 L422.08 121.12 L422.15 121.84 L422.22 122.59 L422.30 123.37 L422.38 124.18 L422.46 125.01 L422.55 125.88 L422.64 126.77 L422.74 127.68 L422.84 128.61 L422.94 129.57 L423.05 130.54 L423.17 131.53 L423.28 132.54 L423.41 133.56 L423.53 134.60 L423.66 135.64 L423.80 136.70 L423.94 137.77 L424.08 138.84 L424.23 139.93 L424.38 141.02 L424.54 142.11 L424.70 143.21 L424.87 144.31 L425.04 145.42 L425.21 146.53 L425.39 147.64 L425.57 148.74 L425.76 149.85 L425.95 150.96 L426.14 152.06 L426.34 153.16 L426.55 154.26 L426.75 155.36 L426.97 156.45 L427.18 157.54 L427.41 158.62 L427.63 159.69 L427.86 160.76 L428.09 161.83 L428.33 162.89 L428.58 163.94 L428.82 164.98 L429.07 166.02 L429.33 167.04 L429.59 168.06 L429.85 169.08 L430.12 170.08 L430.39 171.08 L430.67 172.06 L430.95 173.04 L431.24 174.01 L431.53 174.97 L431.82 175.92 L432.12 176.86 L432.42 177.80 L432.73 178.72 L433.04 179.64 L433.36 180.54 L433.68 181.44 L434.00 182.32 L434.33 183.20 L434.66 184.07 L435.00 184.93 L435.34 185.77 L435.69 186.61 L436.04 187.44 L436.39 188.27 L436.75 189.08 L437.11 189.88 L437.48 190.68 L437.85 191.46 L438.23 192.24 L438.61 193.00 L438.99 193.76 L439.38 194.51 L439.77 195.25 L440.17 195.99 L440.57 196.71 L440.98 197.43 L441.39 198.13 L441.80 198.83 L442.22 199.52 L442.64 200.21 L443.07 200.88 L443.50 201.55 L443.94 202.21 L444.38 202.86 L444.82 203.50 L445.27 204.14 L445.72 204.77 L446.18 205.39 L446.64 206.01 L447.11 206.62 L447.58 207.22 L448.05 207.81 L448.53 208.40 L449.01 208.98 L449.50 209.55 L449.99 210.12 L450.49 210.68 L450.99 211.24 L451.49 211.79 L452.00 212.33 L452.52 212.87 L453.03 213.40 L453.56 213.92 L454.08 214.44 L454.61 214.95 L455.15 215.46 L455.69 215.96 L456.23 216.46 L456.78 216.95 L457.33 217.44 L457.88 217.92 L458.44 218.40 L459.01 218.87 L459.58 219.34 L460.15 219.80 L460.73 220.25 L461.31 220.71 L461.90 221.16 L462.49 221.60 L463.08 222.04 L463.68 222.47 L464.28 222.90 L464.89 223.33 L465.50 223.75 L466.12 224.17 L466.74 224.59 L467.36 225.00 L467.99 225.40 L468.63 225.81 L469.26 226.21 L469.91 226.60 L470.55 226.99 L471.20 227.38 L471.86 227.77 L472.52 228.15 L473.18 228.53 L473.85 228.91 L474.52 229.28 L475.20 229.65 L475.88 230.01 L476.56 230.38 L477.25 230.74 L477.95 231.10 L478.64 231.45 L479.34 231.80 L480.05 232.15 L480.76 232.50 L481.48 232.84 L482.20 233.19 L482.92 233.53 L483.65 233.86 L484.38 234.20 L485.12 234.53 L485.86 234.86 L486.60 235.19 L487.35 235.51 L488.10 235.83 L488.86 236.16 L489.62 236.47 L490.39 236.79 L491.16 237.11 L491.94 237.42 L492.72 237.73 L493.50 238.04 L494.29 238.35 L495.08 238.65 L495.88 238.96 L496.68 239.26 L497.48 239.56 L498.29 239.86 L499.11 240.16 L499.92 240.45 L500.75 240.75 L501.57 241.04 L502.40 241.33 L503.24 241.62 L504.08 241.91 L504.92 242.19 L505.77 242.48 L506.62 242.76 L507.48 243.04 L508.34 243.33 L509.21 243.61 L510.07 243.88 L510.95 244.16 L511.83 244.44 L512.71 244.71 L513.60 244.99 L514.49 245.26 L515.38 245.53 L516.28 245.80 L517.19 246.07 L518.09 246.34 L519.01 246.61 L519.92 246.87 L520.84 247.14 L521.77 247.40 L522.70 247.67 L523.63 247.93 L524.57 248.19 L525.51 248.45 L526.46 248.71 L527.41 248.97 L528.37 249.22 L529.33 249.48 L530.29 249.74 L531.26 249.99 L532.23 250.25 L533.21 250.50 L534.19 250.75 L535.17 251.00 L536.16 251.25 L537.16 251.50 L538.16 251.75 L539.16 252.00 L540.17 252.25 L541.18 252.50 L542.19 252.74 L543.21 252.99 L544.24 253.23 L545.27 253.48 L546.30 253.72 L547.34 253.96 L548.38 254.20 L549.42 254.44 L550.47 254.68 L551.53 254.92 L552.58 255.16 L553.65 255.40 L554.71 255.64 L555.79 255.87 L556.86 256.11 L557.94 256.34 L559.03 256.58 L560.11 256.81 L561.21 257.04 L562.30 257.28 L563.41 257.51 L564.51 257.74 L565.62 257.97 L566.74 258.20 L567.85 258.43 L568.98 258.65 L570.10 258.88 L571.24 259.11 L572.37 259.33 L573.51 259.56 L574.66 259.78 L575.80 260.01 L576.96 260.23 L578.11 260.45 L579.28 260.67 L580.44 260.89 L581.61 261.11 L582.79 261.33 L583.96 261.55 L585.15 261.77 L586.33 261.98 L587.53 262.20 L588.72 262.41 L589.92 262.63 L591.13 262.84 L592.34 263.05 L593.55 263.27 L594.77 263.48 L595.99 263.69 L597.21 263.90 L598.44 264.11 L599.68 264.31 L600.92 264.52 L602.16 264.73 L603.41 264.93 L604.66 265.14 L605.92 265.34 L607.18 265.54 L608.44 265.75 L609.71 265.95 L610.98 266.15 L612.26 266.35 L613.54 266.55 L614.83 266.74 L616.12 266.94 L617.41 267.14 L618.71 267.33 L620.01 267.53 L621.32 267.72 L622.63 267.91 L623.95 268.10 L625.27 268.29 L626.59 268.48 L627.92 268.67 L629.26 268.86 L630.59 269.05 L631.94 269.23 L633.28 269.42 L634.63 269.60 L635.99 269.78 L637.35 269.97 L638.71 270.15 L640.08 270.33 L641.45 270.51 L642.83 270.68 L644.21 270.86 L645.59 271.04 L646.98 271.21 L648.37 271.39 L649.77 271.56 L651.17 271.73 L652.58 271.91 L653.99 272.08 L655.41 272.24 L656.82 272.41 L658.25 272.58 L659.68 272.75 L661.11 272.91 L662.54 273.08 L663.98 273.24 L665.43 273.40 L666.88 273.56 L668.33 273.72 L669.79 273.88 L671.25 274.04 L672.72 274.20 L674.19 274.35 L675.66 274.51 L677.14 274.66 L678.63 274.81 L680.11 274.97 L681.61 275.12 L683.10 275.27 L684.60 275.41 L686.11 275.56 L687.62 275.71 L689.13 275.85 L690.65 276.00 L692.17 276.14 L693.70 276.28 L695.23 276.42 L696.76 276.56 L698.30 276.70 L699.85 276.84 L701.40 276.98 L702.95 277.11 L704.50 277.25 L706.07 277.38 L707.63 277.51 L709.20 277.64 L710.77 277.77 L712.35 277.90 L713.93 278.03 L715.52 278.16 L717.11 278.28 L718.71 278.41 L720.31 278.53 L721.91 278.65 L723.52 278.77 L725.13 278.89 L726.75 279.01 L728.37 279.13 L729.99 279.25 L731.62 279.36 L733.26 279.48 L734.89 279.59 L736.54 279.70 L738.18 279.81 L739.83 279.92 L741.49 280.03 L743.15 280.14 L744.81 280.24 L746.48 280.35 L748.15 280.45 L749.83 280.56 L751.51 280.66 L753.20 280.76 L754.89 280.86 L756.58 280.96 L758.28 281.06 L759.98 281.15 L761.69 281.25 L763.40 281.34" stroke="#e19c24"/>
<path d="M421.60 229.05 L421.60 229.02 L421.61 228.94 L421.62 228.80 L421.63 228.61 L421.65 228.36 L421.68 228.07 L421.71 227.73 L421.74 227.34 L421.77 226.91 L421.81 226.43 L421.86 225.91 L421.91 225.35 L421.96 224.74 L422.02 224.11 L422.08 223.43 L422.15 222.72 L422.22 221.98 L422.30 221.21 L422.38 220.41 L422.46 219.58 L422.55 218.72 L422.64 217.85 L422.74 216.94 L422.84 216.02 L422.94 215.08 L423.05 214.12 L423.17 213.14 L423.28 212.15 L423.41 211.14 L423.53 210.12 L423.66 209.09 L423.80 208.05 L423.94 207.00 L424.08 205.95 L424.23 204.89 L424.38 203.82 L424.54 202.75 L424.70 201.67 L424.87 200.59 L425.04 199.52 L425.21 198.44 L425.39 197.36 L425.57 196.29 L425.76 195.21 L425.95 194.14 L426.14 193.08 L426.34 192.02 L426.55 190.97 L426.75 189.92 L426.97 188.88 L427.18 187.84 L427.41 186.81 L427.63 185.79 L427.86 184.77 L428.09 183.76 L428.33 182.76 L428.58 181.77 L428.82 180.78 L429.07 179.81 L429.33 178.84 L429.59 177.88 L429.85 176.94 L430.12 176.00 L430.39 175.07 L430.67 174.15 L430.95 173.25 L431.24 172.35 L431.53 171.47 L431.82 170.60 L432.12 169.73 L432.42 168.88 L432.73 168.05 L433.04 167.22 L433.36 166.41 L433.68 165.61 L434.00 164.82 L434.33 164.05 L434.66 163.28 L435.00 162.54 L435.34 161.80 L435.69 161.08 L436.04 160.37 L436.39 159.68 L436.75 159.00 L437.11 158.33 L437.48 157.67 L437.85 157.03 L438.23 156.39 L438.61 155.77 L438.99 155.16 L439.38 154.56 L439.77 153.97 L440.17 153.39 L440.57 152.82 L440.98 152.26 L441.39 151.72 L441.80 151.18 L442.22 150.65 L442.64 150.13 L443.07 149.63 L443.50 149.13 L443.94 148.64 L444.38 148.16 L444.82 147.69 L445.27 147.22 L445.72 146.77 L446.18 146.32 L446.64 145.88 L447.11 145.45 L447.58 145.02 L448.05 144.61 L448.53 144.20 L449.01 143.80 L449.50 143.40 L449.99 143.02 L450.49 142.64 L450.99 142.27 L451.49 141.91 L452.00 141.56 L452.52 141.21 L453.03 140.87 L453.56 140.54 L454.08 140.22 L454.61 139.90 L455.15 139.59 L455.69 139.29 L456.23 138.99 L456.78 138.70 L457.33 138.42 L457.88 138.14 L458.44 137.87 L459.01 137.60 L459.58 137.35 L460.15 137.09 L460.73 136.85 L461.31 136.61 L461.90 136.37 L462.49 136.14 L463.08 135.92 L463.68 135.70 L464.28 135.49 L464.89 135.28 L465.50 135.08 L466.12 134.89 L466.74 134.69 L467.36 134.51 L467.99 134.32 L468.63 134.15 L469.26 133.97 L469.91 133.81 L470.55 133.64 L471.20 133.48 L471.86 133.33 L472.52 133.18 L473.18 133.03 L473.85 132.89 L474.52 132.75 L475.20 132.62 L475.88 132.49 L476.56 132.37 L477.25 132.25 L477.95 132.13 L478.64 132.02 L479.34 131.91 L480.05 131.81 L480.76 131.71 L481.48 131.61 L482.20 131.52 L482.92 131.43 L483.65 131.35 L484.38 131.27 L485.12 131.19 L485.86 131.12 L486.60 131.05 L487.35 130.98 L488.10 130.92 L488.86 130.86 L489.62 130.80 L490.39 130.75 L491.16 130.70 L491.94 130.66 L492.72 130.61 L493.50 130.57 L494.29 130.54 L495.08 130.50 L495.88 130.47 L496.68 130.45 L497.48 130.42 L498.29 130.40 L499.11 130.38 L499.92 130.37 L500.75 130.36 L501.57 130.35 L502.40 130.35 L503.24 130.35 L504.08 130.35 L504.92 130.36 L505.77 130.37 L506.62 130.38 L507.48 130.40 L508.34 130.42 L509.21 130.44 L510.07 130.47 L510.95 130.50 L511.83 130.54 L512.71 130.57 L513.60 130.61 L514.49 130.65 L515.38 130.70 L516.28 130.75 L517.19 130.80 L518.09 130.85 L519.01 130.91 L519.92 130.97 L520.84 131.03 L521.77 131.09 L522.70 131.16 L523.63 131.23 L524.57 131.30 L525.51 131.37 L526.46 131.45 L527.41 131.53 L528.37 131.61 L529.33 131.69 L530.29 131.78 L531.26 131.86 L532.23 131.95 L533.21 132.04 L534.19 132.13 L535.17 132.23 L536.16 132.32 L537.16 132.42 L538.16 132.52 L539.16 132.63 L540.17 132.73 L541.18 132.84 L542.19 132.96 L543.21 133.07 L544.24 133.19 L545.27 133.31 L546.30 133.43 L547.34 133.56 L548.38 133.69 L549.42 133.82 L550.47 133.95 L551.53 134.09 L552.58 134.22 L553.65 134.36 L554.71 134.50 L555.79 134.64 L556.86 134.79 L557.94 134.93 L559.03 135.08 L560.11 135.22 L561.21 135.37 L562.30 135.52 L563.41 135.67 L564.51 135.83 L565.62 135.98 L566.74 136.13 L567.85 136.28 L568.98 136.44 L570.10 136.59 L571.24 136.75 L572.37 136.91 L573.51 137.06 L574.66 137.23 L575.80 137.39 L576.96 137.55 L578.11 137.72 L579.28 137.89 L580.44 138.05 L581.61 138.23 L582.79 138.40 L583.96 138.57 L585.15 138.75 L586.33 138.93 L587.53 139.11 L588.72 139.29 L589.92 139.47 L591.13 139.66 L592.34 139.84 L593.55 140.03 L594.77 140.22 L595.99 140.41 L597.21 140.60 L598.44 140.80 L599.68 140.99 L600.92 141.19 L602.16 141.39 L603.41 141.59 L604.66 141.79 L605.92 141.99 L607.18 142.20 L608.44 142.40 L609.71 142.61 L610.98 142.82 L612.26 143.03 L613.54 143.24 L614.83 143.45 L616.12 143.66 L617.41 143.88 L618.71 144.09 L620.01 144.31 L621.32 144.53 L622.63 144.75 L623.95 144.97 L625.27 145.19 L626.59 145.42 L627.92 145.64 L629.26 145.86 L630.59 146.09 L631.94 146.32 L633.28 146.55 L634.63 146.78 L635.99 147.01 L637.35 147.24 L638.71 147.47 L640.08 147.70 L641.45 147.93 L642.83 148.17 L644.21 148.40 L645.59 148.64 L646.98 148.88 L648.37 149.12 L649.77 149.36 L651.17 149.60 L652.58 149.85 L653.99 150.09 L655.41 150.34 L656.82 150.59 L658.25 150.84 L659.68 151.10 L661.11 151.35 L662.54 151.61 L663.98 151.86 L665.43 152.12 L666.88 152.38 L668.33 152.65 L669.79 152.91 L671.25 153.18 L672.72 153.45 L674.19 153.71 L675.66 153.98 L677.14 154.26 L678.63 154.53 L680.11 154.81 L681.61 155.08 L683.10 155.36 L684.60 155.64 L686.11 155.91 L687.62 156.19 L689.13 156.47 L690.65 156.76 L692.17 157.04 L693.70 157.32 L695.23 157.60 L696.76 157.89 L698.30 158.18 L699.85 158.46 L701.40 158.75 L702.95 159.04 L704.50 159.33 L706.07 159.62 L707.63 159.91 L709.20 160.20 L710.77 160.50 L712.35 160.79 L713.93 161.09 L715.52 161.38 L717.11 161.68 L718.71 161.98 L720.31 162.27 L721.91 162.57 L723.52 162.87 L725.13 163.18 L726.75 163.48 L728.37 163.78 L729.99 164.08 L731.62 164.39 L733.26 164.70 L734.89 165.00 L736.54 165.31 L738.18 165.62 L739.83 165.93 L741.49 166.24 L743.15 166.55 L744.81 166.86 L746.48 167.17 L748.15 167.49 L749.83 167.80 L751.51 168.12 L753.20 168.43 L754.89 168.75 L756.58 169.07 L758.28 169.39 L759.98 169.71 L761.69 170.03 L763.40 170.35" stroke="#8fb032"/>
</g>
<line x1="623.3" y1="40.4" x2="654.9" y2="40.4" stroke="#5e81b5" stroke-width="2.5"/>
<line x1="623.3" y1="79.0" x2="654.9" y2="79.0" stroke="#e19c24" stroke-width="2.5"/>
<line x1="623.3" y1="117.4" x2="654.9" y2="117.4" stroke="#8fb032" stroke-width="2.5"/>
<text x="663.8" y="46.1" font-size="19" fill="#000"><tspan class="it">c</tspan><tspan font-size="14.2" dy="3.6">1</tspan></text>
<text x="663.8" y="84.7" font-size="19" fill="#000"><tspan class="it">c</tspan><tspan font-size="14.2" dy="3.6">2</tspan></text>
<text x="664.6" y="122.6" font-size="18.5" fill="#000">1<tspan dx="-1.4" dy="1.2"> − </tspan><tspan class="it" font-size="19" dy="-1.2">c</tspan><tspan font-size="14.2" dy="3.6">1</tspan><tspan dy="-2.4"> − </tspan><tspan class="it" font-size="19" dy="-1.2">c</tspan><tspan font-size="14.2" dy="3.6">2</tspan></text>
<text x="421.6" y="369" font-size="15.6" text-anchor="middle" fill="#666666">0.0</text>
<text x="507.1" y="369" font-size="15.6" text-anchor="middle" fill="#666666">0.5</text>
<text x="592.5" y="369" font-size="15.6" text-anchor="middle" fill="#666666">1.0</text>
<text x="678.0" y="369" font-size="15.6" text-anchor="middle" fill="#666666">1.5</text>
<text x="763.4" y="369" font-size="15.6" text-anchor="middle" fill="#666666">2.0</text>
<text x="434.8" y="70.6" font-size="22" fill="#000">Ens = 32Df</text>
<text x="543.2" y="409.4" font-size="22" fill="#666666"><tspan class="it" font-size="24" fill="#707070">Q</tspan><tspan font-size="15.4" dy="-10.8" dx="-1.8">2</tspan></text>
<text x="580.1" y="409.4" font-size="22.4" fill="#666666">GeV<tspan font-size="15.4" dy="-10.8">2</tspan></text>
<path d="M579.4 389.6h-4.6v26.5h4.6M634.6 389.6h4.6v26.5h-4.6" fill="none" stroke="#666666" stroke-width="1.5"/>
</svg></body></html>
